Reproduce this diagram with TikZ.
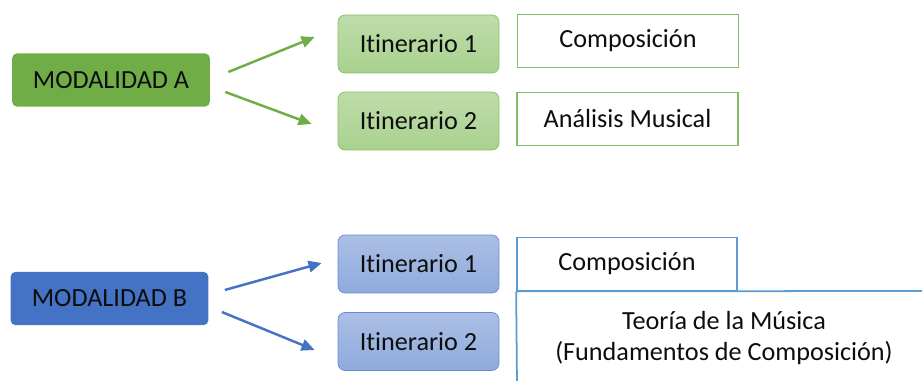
\documentclass[tikz,border=0pt]{standalone}
\usepackage{fontspec}
\setmainfont{Carlito}[Ligatures=NoCommon]
\usepackage{tikz}
\usetikzlibrary{calc,positioning,arrows.meta}
\definecolor{modgreen}{RGB}{112,173,71}
\definecolor{modblue}{RGB}{68,114,196}
\definecolor{itgreen}{RGB}{169,209,142}
\definecolor{itblue}{RGB}{143,170,220}
\definecolor{edgegreen}{RGB}{132,190,98}
\definecolor{edgeblue}{RGB}{102,138,212}
\definecolor{boxblue}{RGB}{91,155,213}

\begin{document}
\begin{tikzpicture}[
    x=0.02cm,y=-0.02cm,
    every node/.style={font=\fontsize{14.9}{17.6}\selectfont,text=black!95},
    modbox/.style={rectangle,rounded corners=3pt,minimum width=3.96cm,minimum height=1.07cm,inner sep=0pt},
    itbox/.style={rectangle,rounded corners=4pt,minimum width=3.22cm,minimum height=1.16cm,inner sep=0pt},
    subjbox/.style={rectangle,line width=1pt,fill=white,minimum width=4.42cm,minimum height=1.06cm,inner sep=0pt},
    arrowA/.style={-{Triangle[length=7.5pt,width=6.5pt]},line width=1.4pt,draw=modgreen},
    arrowB/.style={-{Triangle[length=7.5pt,width=6.5pt]},line width=1.4pt,draw=modblue}
]
    \useasboundingbox (0,0) rectangle (922,381);

    % Modalidad A
    \node[modbox,fill=modgreen] (modA) at (111,80) {MODALIDAD A};
    \node[itbox,draw=edgegreen,top color=itgreen!75,bottom color=itgreen] (itA1) at (418.5,44) {Itinerario 1};
    \node[itbox,draw=edgegreen,top color=itgreen!75,bottom color=itgreen] (itA2) at (418.5,121) {Itinerario 2};
    \node[subjbox,draw=edgegreen] (compA) at (628,41) {Composición};
    \node[subjbox,draw=edgegreen] (anaA) at (627.5,119) {Análisis Musical};

    \draw[arrowA] ($(modA.east)+(18,-8)$) -- ($(itA1.west)+(-23,-7)$);
    \draw[arrowA] ($(modA.east)+(15,12)$) -- ($(itA2.west)+(-26,3)$);

    % Modalidad B
    \node[modbox,fill=modblue] (modB) at (109.5,298.5) {MODALIDAD B};
    \node[itbox,draw=edgeblue,top color=itblue!75,bottom color=itblue] (itB1) at (418.5,264) {Itinerario 1};
    \node[itbox,draw=edgeblue,top color=itblue!75,bottom color=itblue] (itB2) at (418.5,341.5) {Itinerario 2};
    \node[subjbox,draw=boxblue,minimum width=4.4cm] (compB) at (627,264) {Composición};
    \node[align=center] (teoria) at (724,338) {Teoría de la Música\\(Fundamentos de Composición)};
    \draw[boxblue,line width=1pt] (compB.south west) -- (517,385);
    \draw[boxblue,line width=1pt] (compB.south west) -- (926,291);

    \draw[arrowB] ($(modB.east)+(16,-8.5)$) -- ($(itB1.west)+(-16,-1)$);
    \draw[arrowB] ($(modB.east)+(13,13.5)$) -- ($(itB2.west)+(-23,8.5)$);
\end{tikzpicture}
\end{document}
